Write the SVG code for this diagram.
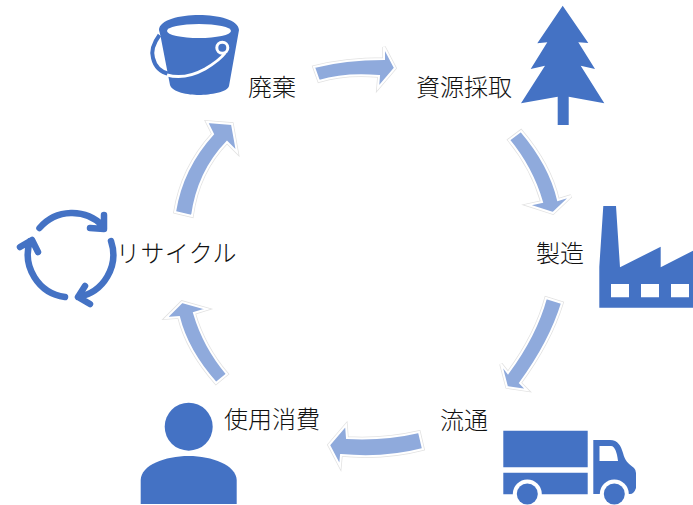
<svg xmlns="http://www.w3.org/2000/svg" width="693" height="505" viewBox="0 0 693 505">
<style>
.ic{fill:#4472c4}
.cut{fill:#fff}
.ln{fill:none;stroke:#4472c4;stroke-width:6.5;stroke-linecap:round;stroke-linejoin:round}
.h1{fill:none;stroke:#e2e2e2;stroke-width:3.500;stroke-linejoin:miter}
.h3{fill:#8faadc;stroke:#fff;stroke-width:2}
text{font-family:"Noto Sans CJK JP","Noto Sans",sans-serif;font-size:24px;font-weight:300;fill:#111}
</style>
<defs>
<path id="p1" d="M314 67Q345 59 384 59L384 47L395 68L378 88L379 76Q345 73 319 81Z"/>
<path id="p2" d="M509 140L521 131Q550 165 558 200L571 196L553 213L528 205L542 202Q532 168 509 140Z"/>
<path id="p3" d="M546 298L562 303Q550 342 520 383L527 390L507 387L501 364L508 373Q536 335 546 298Z"/>
<path id="p4" d="M419 432L423 449Q385 459 341 455L340 466L329 445L346 425L347 438Q385 440 419 432Z"/>
<path id="p5" d="M227 374L216 383Q187 350 179 317L166 318L182 302L207 309L194 313Q204 347 227 374Z"/>
<path id="p6" d="M175 212L192 216Q198 172 227 142L237 152L232 124L207 122L213 134Q182 168 175 212Z"/>
</defs>
<g id="connectors">
<use href="#p1" class="h1"/><use href="#p1" class="h3"/>
<use href="#p2" class="h1"/><use href="#p2" class="h3"/>
<use href="#p3" class="h1"/><use href="#p3" class="h3"/>
<use href="#p4" class="h1"/><use href="#p4" class="h3"/>
<use href="#p5" class="h1"/><use href="#p5" class="h3"/>
<use href="#p6" class="h1"/><use href="#p6" class="h3"/>
</g>
<g id="disposal">
<path class="ic" d="M159 30C159 20 180 15 199 15C218 15 239 20 239 30L229 86C228 92 210 95 199 95C188 95 172 92 170 85L160.500 36Z"/>
<path class="cut" d="M167 31a32 7 0 1 0 64 0a32 7 0 1 0 -64 0Z"/>
<path fill="none" stroke="#4472c4" stroke-width="4" d="M159.500 35Q150 48 153 58Q156 71 169 74"/>
<path fill="none" stroke="#fff" stroke-width="3" d="M167 75Q185 80 205 69Q220 60 225 53"/>
<circle cx="222.300" cy="47.700" r="5.500" fill="#4472c4" stroke="#fff" stroke-width="3"/>
<text x="248" y="96">廃棄</text>
</g>
<g id="resource">
<path class="ic" d="M562.700 5.700L588.300 43L578.300 42.300L595 69L580.700 65.700L604.300 103.300L568.700 96.700V125H557.700V96.700L521 103.300L545 65.700L530.700 69L547.300 42.300L537.300 43.300Z"/>
<text x="416" y="96">資源採取</text>
</g>
<g id="manufacture">
<path class="ic" d="M603.300 206H616L620 267.300L660.700 246.700V267.300L693 250.700V307.700H599.300V266.700Z"/>
<path class="cut" d="M611 284h18v13.300h-18ZM641 284h18v13.300h-18ZM671 284h18v13.300h-18Z"/>
<text x="536" y="262">製造</text>
</g>
<g id="distribution">
<path class="ic" d="M503.300 430.700H587.700V467.300H503.300ZM503.300 472.700H587.700V494.300H503.300ZM593.300 440H610C618 440 621 446 623 453C625 461 628 463 634 468Q636 470 636 473V488Q634 494 630 494H593.300Z"/>
<path class="cut" d="M599.500 446H611C615 446 617 453 618 461H599.500Z"/>
<circle class="cut" cx="527.300" cy="494" r="14.500"/><circle class="cut" cx="614.300" cy="494" r="14.500"/>
<circle class="ic" cx="527.300" cy="494" r="10.500"/><circle class="ic" cx="614.300" cy="494" r="10.500"/>
<text x="440" y="429">流通</text>
</g>
<g id="consumption">
<circle class="ic" cx="188.700" cy="426.700" r="24"/>
<path class="ic" d="M140.700 480C141 465 165 456 188.700 456C212 456 236 465 236.700 480V504H140.700Z"/>
<text x="224" y="428">使用消費</text>
</g>
<g id="recycle">
<path class="ln" d="M39.500 228A43 43 0 0 1 103 226M104 215L104 229L90 228"/>
<path class="ln" d="M111 241A43 43 0 0 1 78 297M85 286L78 297L90 304"/>
<path class="ln" d="M65 297A43 43 0 0 1 30 241M20 247L32 240L38 252"/>
<text x="116" y="262" letter-spacing=".4">リサイクル</text>
</g>
</svg>
